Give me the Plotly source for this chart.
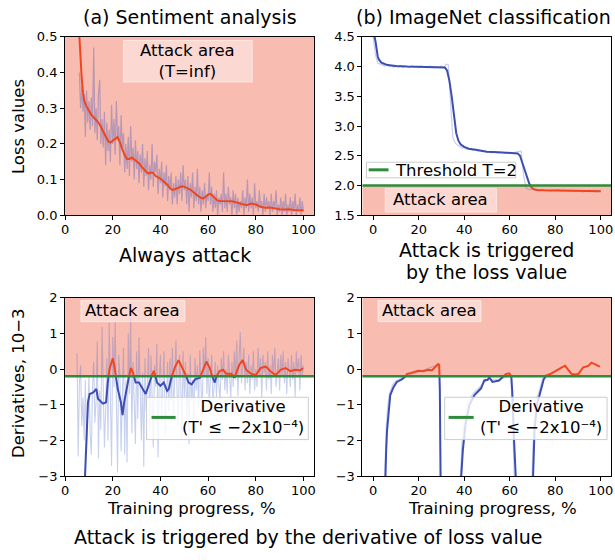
import plotly.graph_objects as go

W, H = 615, 560
FONT = "DejaVu Sans"

# ---------------- data ----------------
# (a) Sentiment analysis, loss values (raw samples every 0.5 % from 6 %)
TL_RAW_X0, TL_RAW_STEP = 6.0, 0.5
TL_RAW = [
    0.40, 0.30, 0.36, 0.29, 0.34, 0.22, 0.35, 0.26, 0.32, 0.24,
    0.33, 0.25, 0.47, 0.23, 0.30, 0.21, 0.34, 0.38, 0.20, 0.27,
    0.19, 0.29, 0.14, 0.26, 0.18, 0.24, 0.15, 0.31, 0.20, 0.27,
    0.17, 0.32, 0.21, 0.25, 0.14, 0.28, 0.19, 0.23, 0.12, 0.20,
    0.13, 0.22, 0.11, 0.25, 0.15, 0.19, 0.10, 0.21, 0.13, 0.18,
    0.09, 0.17, 0.12, 0.20, 0.08, 0.16, 0.11, 0.18, 0.07, 0.14,
    0.10, 0.20, 0.08, 0.15, 0.12, 0.17, 0.06, 0.13, 0.09, 0.15,
    0.05, 0.12, 0.08, 0.14, 0.04, 0.11, 0.07, 0.12, 0.03, 0.09,
    0.05, 0.11, 0.03, 0.10, 0.06, 0.12, 0.04, 0.14, 0.07, 0.10,
    0.03, 0.11, 0.01, 0.09, 0.05, 0.12, 0.02, 0.08, 0.04, 0.13,
    0.03, 0.08, 0.01, 0.07, 0.03, 0.09, 0.02, 0.06, 0.04, 0.12,
    0.03, 0.08, 0.01, 0.06, 0.02, 0.07, 0.00, 0.05, 0.03, 0.06,
    0.01, 0.12, 0.02, 0.06, 0.01, 0.08, 0.03, 0.05, 0.00, 0.07,
    0.02, 0.06, 0.00, 0.05, 0.01, 0.04, 0.02, 0.07, 0.00, 0.05,
    0.02, 0.10, 0.01, 0.06, 0.02, 0.05, 0.00, 0.09, 0.02, 0.04,
    0.01, 0.07, 0.02, 0.04, 0.00, 0.06, 0.01, 0.05, 0.02, 0.04,
    0.00, 0.06, 0.01, 0.04, 0.02, 0.07, 0.00, 0.03, 0.01, 0.05,
    0.00, 0.04, 0.01, 0.06, 0.00, 0.03, 0.01, 0.05, 0.00, 0.04,
    0.01, 0.06, 0.00, 0.03, 0.01, 0.05, 0.00, 0.04, 0.01,
]
TL_SMOOTH_X = [5.5, 6, 6.5, 7, 7.5, 8,
               9, 10, 11, 12, 13, 14, 15, 16, 17, 18,
               19, 20, 21, 22, 23, 24, 25, 26, 27, 28,
               29, 30, 31, 32, 33, 34, 35, 36, 37, 38,
               39, 40, 41, 42, 43, 44, 45, 46, 47, 48,
               49, 50, 51, 52, 53, 54, 55, 56, 57, 58,
               59, 60, 61, 62, 63, 64, 65, 66, 67, 68,
               69, 70,
               72, 74, 76, 78, 80, 82, 84, 86, 88, 90, 92, 94, 96, 98, 100]
TL_SMOOTH_Y = [0.56, 0.49, 0.43, 0.38, 0.345, 0.322,
               0.305, 0.292, 0.282, 0.274, 0.268, 0.260, 0.248, 0.235, 0.221, 0.208,
               0.204, 0.208, 0.214, 0.219, 0.205, 0.185, 0.168, 0.158, 0.158, 0.162,
               0.156, 0.150, 0.146, 0.137, 0.128, 0.122, 0.117, 0.120, 0.119, 0.110,
               0.106, 0.103, 0.097, 0.091, 0.085, 0.076, 0.071, 0.073, 0.075, 0.079,
               0.081, 0.080, 0.077, 0.074, 0.070, 0.064, 0.058, 0.053, 0.049, 0.047,
               0.052, 0.058, 0.060, 0.053, 0.046, 0.041, 0.040, 0.040, 0.039, 0.041,
               0.040, 0.039,
               0.036, 0.032, 0.028, 0.033, 0.030, 0.024, 0.021, 0.022, 0.019, 0.017,
               0.016, 0.017, 0.015, 0.015, 0.014]

# (b) ImageNet classification, loss values (raw every 1 %)
TR_RAW_X0, TR_RAW_STEP = 0.0, 1.0
TR_RAW = [
    4.50, 4.20, 4.06, 4.04, 4.03, 4.01, 4.03, 4.00, 4.02, 3.99,
    4.01, 3.99, 4.02, 3.98, 4.01, 4.00, 3.98, 4.02, 3.99, 4.00,
    3.98, 4.01, 3.99, 4.00, 3.98, 4.01, 3.99, 3.98, 4.00, 3.99,
    4.01, 3.98, 4.04, 4.03, 3.40, 2.80, 2.72, 2.68, 2.66, 2.63,
    2.64, 2.61, 2.62, 2.60, 2.59, 2.61, 2.58, 2.59, 2.57, 2.58,
    2.56, 2.57, 2.55, 2.57, 2.56, 2.54, 2.56, 2.55, 2.54, 2.56,
    2.55, 2.54, 2.56, 2.57, 2.57, 2.58, 2.20, 1.97, 1.94, 1.93,
    1.94, 1.92, 1.93, 1.91, 1.92, 1.93, 1.91, 1.92, 1.90, 1.92,
    1.91, 1.93, 1.91, 1.90, 1.92, 1.91, 1.90, 1.92, 1.91, 1.90,
    1.92, 1.91, 1.89, 1.91, 1.90, 1.92, 1.90, 1.91, 1.89, 1.91,
    1.90,
]
TR_SMOOTH_X = [0, 0.5, 1, 1.5, 2, 2.5, 3, 3.5, 4,
               5, 6, 8, 10, 15, 20, 25, 30,
               31.5, 32.5, 33.5, 34.5, 35.5, 36.5, 37.5, 38.5,
               40, 42, 45, 50, 55, 60,
               63.5, 64.5, 65.5, 66.5, 67.5, 68.5, 69.5, 70.5,
               72, 75, 80, 85, 90, 95, 100]
TR_SMOOTH_Y = [4.55, 4.52, 4.43, 4.27, 4.17, 4.12, 4.09, 4.07, 4.06,
               4.04, 4.03, 4.02, 4.01, 4.00, 3.995, 3.99, 3.99,
               3.985, 3.93, 3.76, 3.50, 3.18, 2.88, 2.75, 2.69,
               2.65, 2.62, 2.60, 2.57, 2.56, 2.55,
               2.54, 2.50, 2.38, 2.26, 2.14, 2.04, 1.97, 1.94,
               1.925, 1.92, 1.915, 1.915, 1.91, 1.905, 1.905]
THRESH_LOSS = 2.0

# Derivatives (x10^-3), sentiment analysis (raw every 0.5 % from 5 %)
BL_RAW_X0, BL_RAW_STEP = 5.0, 0.5
BL_RAW = [
    0.45, -2.45, -0.4, 0.1, -1.6, -0.8, -2.0, -0.3, -2.2, -1.0,
    -0.2, -1.8, -2.4, -0.5, 0.2, -1.5, -0.9, 0.77, -2.5, -0.6,
    -1.7, 1.18, -0.4, -2.2, -1.2, 0.3, -2.0, 1.3, -0.8, -2.72,
    0.9, -0.5, 1.32, -1.6, -2.9, 0.4, -0.2, -2.3, -1.0, 0.6,
    -2.4, -0.3, -2.62, 1.0, -0.7, 1.44, -1.8, 0.2, -0.9, -2.1,
    0.5, -1.4, 0.9, -0.6, -2.0, -0.1, -2.74, 0.3, -1.2, -0.4,
    0.6, -1.7, 0.39, -0.8, -2.2, 0.1, -0.5, 0.7, -2.47, -0.3,
    0.4, -1.5, -0.2, 0.5, -1.9, -0.6, 0.2, -1.2, 0.3, -0.9,
    0.6, -1.3, 0.1, 0.8, -0.7, -1.6, 0.4, -0.3, -1.92, 0.5,
    -0.8, 0.2, -1.4, -0.1, -2.1, 0.4, -0.9, -0.3, -1.5, 0.3,
    -0.6, 0.1, -1.1, 0.53, -0.4, -1.3, 0.6, -0.2, 0.9, -0.7,
    0.3, -1.0, -0.2, 0.4, -0.9, -0.5, 0.2, -0.8, 0.1, -0.4,
    -0.93, 0.3, -0.3, 0.5, -0.6, 0.0, -0.7, 0.4, -0.2, -0.8,
    0.2, -0.5, 0.5, -0.3, 0.8, -0.75, 0.3, 1.03, -0.4, 0.1,
    0.6, -0.6, 0.2, -0.4, 0.4, -0.7, 0.1, -0.3, 0.5, -0.6,
    0.0, -0.5, 0.6, -0.2, 0.3, -0.8, 0.4, -0.1, 0.2, -0.6,
    0.5, -0.3, 0.1, -0.7, 0.4, -0.2, 0.6, -0.5, 0.0, 0.3,
    -0.6, 0.4, -0.2, 0.5, -0.4, 0.2, -0.7, 0.3, 0.0, -0.5,
    0.4, -0.3, 0.2, -0.8, 0.5, -0.1, 0.3, -0.6, 0.4, -0.2,
    0.1,
]
BL_SMOOTH_X = [8.3, 8.9, 9.6, 10.3, 11.7, 13.1, 13.8, 15.9, 17.2, 17.9,
               18.6, 19.3, 20.0, 20.7, 22.1, 23.4, 24.1, 24.8, 26.2, 27.6,
               28.6, 29.6, 31.0, 32.4, 33.8, 35.2, 36.6, 37.2, 37.9, 38.6,
               40.0, 41.4, 42.8, 43.5, 44.8, 46.2, 47.6, 49.0, 50.4, 51.8,
               53.1, 54.5, 56.6, 58.6, 59.3, 60.7, 62.1, 62.8, 63.5, 64.8,
               66.2, 67.6, 69.7, 71.0, 73.1, 74.5, 75.9, 78.0, 80.0, 82.1,
               84.2, 86.2, 88.3, 90.4, 92.5, 94.5, 96.6, 98.7, 99.8]
BL_SMOOTH_Y = [-3.1, -2.02, -0.93, -0.70, -0.66, -0.56, -0.83, -0.97, -0.93, -0.38,
               -0.02, 0.15, 0.30, 0.07, -0.56, -0.93, -1.29, -0.93, -0.38, 0.03,
               -0.13, -0.38, -0.38, -0.56, -0.70, -0.43, -0.13, -0.05, -0.20, -0.38,
               -0.47, -0.38, -0.61, -0.56, -0.20, 0.07, 0.25, 0.07, -0.13, -0.38,
               -0.43, -0.29, -0.24, 0.12, 0.21, 0.03, -0.29, -0.38, -0.20, -0.06,
               -0.02, -0.13, -0.13, -0.24, 0.12, 0.25, -0.02, -0.13, -0.17, 0.03,
               0.07, -0.06, -0.17, -0.02, 0.03, -0.06, -0.02, -0.04, 0.03]

# Derivatives (x10^-3), ImageNet: raw (faint) and smoothed
BR_RAW_X = [4.8, 5.0, 5.4, 5.8, 6.5, 7.2, 8.5, 10.0, 12.0, 14.0, 20.0,
            28.5, 29.1, 29.4, 29.8, 38.0, 38.3, 39.0, 40.1, 41.7, 44.0,
            47.0, 50.0, 55.0, 60.5, 61.0, 61.6, 62.2, 69.6, 69.9, 70.5,
            71.5, 73.0, 74.5, 76.0]
BR_RAW_Y = [-3.5, -3.0, -2.2, -1.6, -1.0, -0.68, -0.45, -0.33, -0.27, -0.20, -0.08,
            0.12, 0.10, -1.2, -3.5, -3.5, -3.0, -2.1, -1.4, -0.93, -0.68,
            -0.50, -0.30, -0.30, -0.18, -0.90, -2.4, -3.5, -3.5, -3.0, -1.6,
            -0.92, -0.58, -0.27, -0.15]
BR_SMOOTH_X = [5.2, 5.35, 5.7, 6.1, 6.8, 7.5, 9.0, 10.4, 12.6, 14.0, 14.8,
               16.0, 17.7, 19.8, 22.0, 24.2, 25.8, 27.1, 28.5, 29.0, 29.3,
               29.6, 30.0, 38.5, 38.7, 39.4, 40.6, 42.3, 44.5, 47.4, 48.8,
               50.3, 51.0, 52.4, 53.8, 55.3, 56.8, 58.3, 59.7, 60.7, 61.1,
               61.9, 62.6, 63.0, 70.0, 70.3, 70.9, 72.0, 73.5, 74.9, 76.1,
               77.8, 80.0, 81.5, 82.9, 84.3, 85.8, 87.2, 88.7, 90.1, 92.3,
               94.5, 95.9, 98.1, 99.6]
BR_SMOOTH_Y = [-3.5, -3.0, -2.3, -1.72, -1.09, -0.73, -0.50, -0.36, -0.29, -0.23, -0.14,
               -0.12, -0.09, -0.05, -0.06, -0.02, -0.04, 0.05, 0.14, 0.12, -0.63,
               -3.0, -3.5, -3.5, -3.0, -2.27, -1.54, -1.00, -0.73, -0.54, -0.32,
               -0.30, -0.23, -0.36, -0.34, -0.32, -0.23, -0.14, -0.12, -0.20, -0.63,
               -2.0, -3.0, -3.5, -3.5, -3.0, -1.72, -1.00, -0.63, -0.29, -0.18,
               -0.14, -0.05, 0.00, 0.05, 0.09, -0.02, -0.14, -0.15, -0.14, 0.05,
               0.09, 0.18, 0.11, 0.07]
THRESH_DERIV = -0.2

X_TICKS = [0, 20, 40, 60, 80, 100]

# ---------------- style ----------------
SALMON = "#f9bcb0"
RED = "#f0461f"
BLUE = "#3c4eb4"
NOISE_TL = "rgba(85,95,185,0.40)"
NOISE = "rgba(80,110,200,0.32)"
GREEN = "#2e8b3c"


def raw_x(x0, step, vals):
    return [x0 + step * i for i in range(len(vals))]


def split(xs, ys, thr):
    """Split a polyline into the part above and the part below thr."""
    ax, ay, bx, by = [], [], [], []
    for i, (x, y) in enumerate(zip(xs, ys)):
        if i > 0:
            x0, y0 = xs[i - 1], ys[i - 1]
            if (y0 - thr) * (y - thr) < 0:
                xc = x0 + (thr - y0) * (x - x0) / (y - y0)
                ax.append(xc); ay.append(thr)
                bx.append(xc); by.append(thr)
        d = y - thr
        if abs(d) < 1e-9:
            ax.append(x); ay.append(y)
            bx.append(x); by.append(y)
        elif d > 0:
            ax.append(x); ay.append(y)
            bx.append(None); by.append(None)
        else:
            bx.append(x); by.append(y)
            ax.append(None); ay.append(None)
    return ax, ay, bx, by


fig = go.Figure()


def line(x, y, color, width, axis):
    fig.add_trace(go.Scatter(x=x, y=y, mode="lines", line=dict(color=color, width=width),
                             xaxis="x" + axis, yaxis="y" + axis, showlegend=False,
                             hoverinfo="skip"))


# top-left
line(raw_x(TL_RAW_X0, TL_RAW_STEP, TL_RAW), TL_RAW, NOISE_TL, 1.2, "")
line(TL_SMOOTH_X, TL_SMOOTH_Y, RED, 2, "")
# top-right
line(raw_x(TR_RAW_X0, TR_RAW_STEP, TR_RAW), TR_RAW, NOISE, 1.2, "2")
ax_, ay_, bx_, by_ = split(TR_SMOOTH_X, TR_SMOOTH_Y, THRESH_LOSS)
line(ax_, ay_, BLUE, 2, "2")
line(bx_, by_, RED, 2, "2")
# bottom-left
line(raw_x(BL_RAW_X0, BL_RAW_STEP, BL_RAW), BL_RAW, NOISE, 1.1, "3")
ax_, ay_, bx_, by_ = split(BL_SMOOTH_X, BL_SMOOTH_Y, THRESH_DERIV)
line(bx_, by_, BLUE, 2, "3")
line(ax_, ay_, RED, 2, "3")
# bottom-right
line(BR_RAW_X, BR_RAW_Y, NOISE, 1.2, "4")
ax_, ay_, bx_, by_ = split(BR_SMOOTH_X, BR_SMOOTH_Y, THRESH_DERIV)
line(bx_, by_, BLUE, 2, "4")
line(ax_, ay_, RED, 2, "4")

shapes = []
annotations = []


def px(xp):
    return xp / W


def py(yp):
    return 1 - yp / H


def box(x0, y0, x1, y1, fill, border):
    shapes.append(dict(type="rect", xref="paper", yref="paper", x0=px(x0), x1=px(x1),
                       y0=py(y1), y1=py(y0), fillcolor=fill,
                       line=dict(color=border, width=1), layer="above"))


def seg(x0, x1, y, color, width):
    shapes.append(dict(type="line", xref="paper", yref="paper", x0=px(x0), x1=px(x1),
                       y0=py(y), y1=py(y), line=dict(color=color, width=width), layer="above"))


def text(x, y, s, size, **kw):
    d = dict(x=px(x), y=py(y), xref="paper", yref="paper", text=s, showarrow=False,
             xanchor="center", yanchor="middle", align="center",
             font=dict(family=FONT, size=size, color="black"))
    d.update(kw)
    annotations.append(d)


# attack areas
shapes.append(dict(type="rect", xref="x domain", yref="y domain", x0=0, x1=1, y0=0, y1=1,
                   fillcolor=SALMON, line=dict(width=0), layer="below"))
shapes.append(dict(type="rect", xref="x2 domain", yref="y2", x0=0, x1=1, y0=1.5, y1=THRESH_LOSS,
                   fillcolor=SALMON, line=dict(width=0), layer="below"))
for a in ("3", "4"):
    shapes.append(dict(type="rect", xref="x%s domain" % a, yref="y" + a, x0=0, x1=1,
                       y0=THRESH_DERIV, y1=2, fillcolor=SALMON, line=dict(width=0), layer="below"))
# thresholds
shapes.append(dict(type="line", xref="x2 domain", yref="y2", x0=0, x1=1, y0=THRESH_LOSS,
                   y1=THRESH_LOSS, line=dict(color=GREEN, width=2.5), layer="above"))
for a in ("3", "4"):
    shapes.append(dict(type="line", xref="x%s domain" % a, yref="y" + a, x0=0, x1=1,
                       y0=THRESH_DERIV, y1=THRESH_DERIV, line=dict(color=GREEN, width=2.5),
                       layer="above"))

AREA_FILL = "rgba(255,255,255,0.42)"
AREA_LINE = "rgba(255,255,255,0.55)"
box(120.7, 34.5, 250.7, 77.0, AREA_FILL, AREA_LINE)
text(185.7, 55.4, "Attack area<br>(T=inf)", 16.5, borderpad=0)
box(385, 186.7, 497.3, 210.7, AREA_FILL, AREA_LINE)
text(441, 197.9, "Attack area", 16.5)
box(77.7, 301.7, 182.7, 323.3, AREA_FILL, AREA_LINE)
text(130.2, 312.2, "Attack area", 16.5)
box(377.7, 301.7, 481.7, 323.3, AREA_FILL, AREA_LINE)
text(429.7, 312.2, "Attack area", 16.5)

# legends
LEG_FILL = "rgba(255,255,255,0.8)"
LEG_LINE = "#cccccc"
DERIV_LABEL = "Derivative<br>(T' \u2264 \u22122x10\u207b\u2074)"
box(366, 159.5, 516.7, 175.5, LEG_FILL, LEG_LINE)
seg(368.3, 388.3, 167.3, GREEN, 3)
text(394.3, 167.9, "Threshold T=2", 16.5, xanchor="left", borderpad=0)
box(144, 401.0, 307.3, 444.5, LEG_FILL, LEG_LINE)
seg(149, 173.3, 421.7, GREEN, 3)
text(241.5, 421.6, DERIV_LABEL, 16.5, borderpad=0)
box(445, 401.0, 609, 444.5, LEG_FILL, LEG_LINE)
seg(449, 474.3, 421.7, GREEN, 3)
text(541.8, 421.6, DERIV_LABEL, 16.5, borderpad=0)

# titles / labels
text(187.5, 10, "(a) Sentiment analysis", 19)
text(484, 10, "(b) ImageNet classification", 19)
text(182.5, 254.5, "Always attack", 19)
text(487, 249.3, "Attack is triggered", 19, borderpad=0)
text(487, 272.4, "by the loss value", 19, borderpad=0)
text(189, 515.5, "Training progress, %", 16.5, borderpad=0)
text(493.3, 515.5, "Training progress, %", 16.5, borderpad=0)
text(307, 544.5, "Attack is triggered by the derivative of loss value", 19, borderpad=0)
text(14, 122.5, "Loss values", 16.5, textangle=-90)
text(14.5, 387, "Derivatives, 10\u22123", 16.5, textangle=-90)


def axis(domain, rng, **kw):
    d = dict(domain=domain, range=rng, showline=True, linecolor="black", linewidth=1,
             mirror=True, ticks="outside", ticklen=4, tickwidth=1, tickcolor="black",
             showgrid=False, zeroline=False, fixedrange=True,
             tickfont=dict(family=FONT, size=13, color="black"))
    d.update(kw)
    return d


XL = [px(61.7), px(313)]
XR = [px(362), px(613)]
YT = [py(214), py(30.7)]
YB = [py(482), py(298.7)]

fig.update_layout(
    width=W, height=H, margin=dict(l=0, r=0, t=0, b=0),
    paper_bgcolor="white", plot_bgcolor="white", showlegend=False,
    xaxis=axis(XL, [0, 104.4], anchor="y", tickvals=X_TICKS, ticklabelstandoff=-2),
    yaxis=axis(YT, [0, 0.5], anchor="x", dtick=0.1, tick0=0, tickformat=".1f"),
    xaxis2=axis(XR, [-4.7, 104.5], anchor="y2", tickvals=X_TICKS, ticklabelstandoff=-2),
    yaxis2=axis(YT, [1.5, 4.5], anchor="x2", dtick=0.5, tick0=1.5, tickformat=".1f"),
    xaxis3=axis(XL, [0, 104.4], anchor="y3", tickvals=X_TICKS, ticklabelstandoff=-2),
    yaxis3=axis(YB, [-3, 2], anchor="x3", dtick=1, tick0=-3),
    xaxis4=axis(XR, [-4.7, 104.5], anchor="y4", tickvals=X_TICKS, ticklabelstandoff=-2),
    yaxis4=axis(YB, [-3, 2], anchor="x4", dtick=1, tick0=-3),
    shapes=shapes, annotations=annotations,
)

fig.write_html("out.html", config={"displayModeBar": False},
               post_script="document.body.style.margin='0px';document.body.style.overflow='hidden';")
